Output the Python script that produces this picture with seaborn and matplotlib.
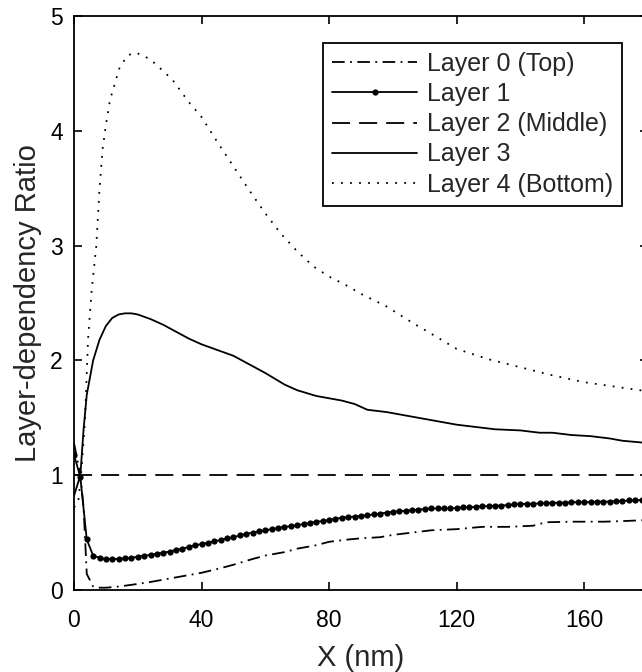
import numpy as np
import seaborn as sns
import matplotlib.pyplot as plt

# Layer 0 (Top) - dash-dot
x0 = [0, 2, 3, 4, 6, 8, 10, 14, 18, 24, 30, 36, 40, 46, 50, 56, 60, 66, 70, 76, 80,
      86, 90, 96, 100, 106, 112, 120, 128, 136, 144, 148, 156, 166, 172, 180]
y0 = [1.28, 1.0, 0.72, 0.14, 0.03, 0.02, 0.02, 0.03, 0.045, 0.07, 0.10, 0.13, 0.15,
      0.19, 0.22, 0.27, 0.30, 0.33, 0.36, 0.39, 0.42, 0.44, 0.45, 0.46, 0.48, 0.50,
      0.52, 0.53, 0.55, 0.55, 0.56, 0.59, 0.595, 0.595, 0.60, 0.61]

# Layer 1 - solid with markers every 2 nm
x1 = np.arange(0, 181, 2)
y1 = [1.18, 0.98, 0.44, 0.30, 0.28, 0.27, 0.27, 0.27, 0.275, 0.28,
      0.29, 0.30, 0.305, 0.315, 0.325, 0.335, 0.35, 0.36, 0.375, 0.39,
      0.40, 0.41, 0.425, 0.435, 0.45, 0.46, 0.475, 0.49, 0.50, 0.51,
      0.52, 0.53, 0.54, 0.55, 0.555, 0.565, 0.575, 0.585, 0.595, 0.60,
      0.61, 0.62, 0.63, 0.635, 0.64, 0.645, 0.65, 0.66, 0.665, 0.675,
      0.68, 0.685, 0.69, 0.695, 0.70, 0.705, 0.71, 0.71, 0.71, 0.71,
      0.715, 0.72, 0.72, 0.725, 0.73, 0.73, 0.735, 0.735, 0.74, 0.745,
      0.75, 0.75, 0.75, 0.755, 0.755, 0.76, 0.76, 0.76, 0.765, 0.765,
      0.765, 0.765, 0.77, 0.77, 0.77, 0.775, 0.775, 0.78, 0.78, 0.785,
      0.785]

# Layer 2 (Middle) - dashed, constant
x2 = [0, 180]
y2 = [1.0, 1.0]

# Layer 3 - solid
x3 = [0, 2, 3, 4, 6, 8, 10, 12, 14, 16, 18, 20, 24, 28, 32, 36, 40, 44, 50, 56, 60,
      66, 70, 76, 80, 84, 88, 92, 98, 104, 110, 116, 120, 126, 132, 140, 146, 150,
      156, 162, 168, 172, 176, 180]
y3 = [0.82, 1.0, 1.4, 1.7, 2.0, 2.18, 2.30, 2.37, 2.40, 2.41, 2.41, 2.40, 2.36, 2.31,
      2.25, 2.19, 2.14, 2.10, 2.04, 1.95, 1.89, 1.79, 1.74, 1.69, 1.67, 1.65, 1.62,
      1.57, 1.55, 1.52, 1.49, 1.46, 1.44, 1.42, 1.40, 1.39, 1.37, 1.37, 1.35, 1.34,
      1.32, 1.30, 1.29, 1.28]

# Layer 4 (Bottom) - dotted
x4 = [0, 1.3, 2.2, 3.4, 4.4, 5.5, 7, 8, 9, 10, 11.3, 14.4, 17, 19.5, 22, 24, 28, 31,
      36, 40, 45, 50, 55, 60, 65, 70, 75, 80, 85, 90, 98, 106, 114, 120, 130, 140,
      150, 160, 170, 180]
y4 = [0.72, 0.76, 1.0, 1.45, 2.18, 2.6, 3.0, 3.5, 3.85, 4.05, 4.27, 4.56, 4.66, 4.68,
      4.65, 4.62, 4.52, 4.44, 4.25, 4.12, 3.90, 3.69, 3.48, 3.28, 3.10, 2.95, 2.82,
      2.73, 2.66, 2.58, 2.47, 2.33, 2.20, 2.10, 2.01, 1.94, 1.87, 1.81, 1.77, 1.73]

sns.set_style("ticks")
plt.rcParams['font.family'] = ['Liberation Sans', 'DejaVu Sans']

fig = plt.figure(figsize=(6.42, 6.72), dpi=100)
ax = fig.add_axes([74 / 642, 1 - 590 / 672, 574 / 642, 574 / 672])

lw = 1.3
sns.lineplot(x=x0, y=y0, ax=ax, color='k', lw=lw, linestyle=(0, (7, 3, 1, 3)),
             label='Layer 0 (Top)', errorbar=None)
sns.lineplot(x=x1, y=y1, ax=ax, color='k', lw=lw, marker='o', markersize=4.5,
             markeredgewidth=0, label='Layer 1', errorbar=None)
sns.lineplot(x=x2, y=y2, ax=ax, color='k', lw=lw, linestyle=(0, (10, 5)),
             label='Layer 2 (Middle)', errorbar=None)
sns.lineplot(x=x3, y=y3, ax=ax, color='k', lw=lw, label='Layer 3', errorbar=None)
sns.lineplot(x=x4, y=y4, ax=ax, color='k', lw=lw, linestyle=(0, (1, 4)),
             label='Layer 4 (Bottom)', errorbar=None)

ax.set_xlim(0, 180)
ax.set_ylim(0, 5)
ax.set_xticks([0, 40, 80, 120, 160])
ax.set_yticks([0, 1, 2, 3, 4, 5])
ax.tick_params(direction='in', length=6, width=1.2, top=True, right=True,
               labelsize=16.5, colors='k')
ax.tick_params(axis='x', pad=14)
ax.tick_params(axis='y', pad=8)
for s in ax.spines.values():
    s.set_visible(True)
    s.set_linewidth(1.3)
    s.set_color('k')

ax.set_xlabel('X (nm)', fontsize=21, labelpad=8)
ax.set_ylabel('Layer-dependency Ratio', fontsize=21, labelpad=6)

leg = ax.legend(loc='upper right', bbox_to_anchor=(622 / 642, 1 - 43 / 672),
                bbox_transform=fig.transFigure, borderaxespad=0, fontsize=18,
                handlelength=3.4, handletextpad=0.4, labelspacing=0.25,
                borderpad=0.35, fancybox=False, edgecolor='k', framealpha=1,
                numpoints=1)
leg.get_frame().set_linewidth(1.3)

fig.savefig('out.png', dpi=100)
